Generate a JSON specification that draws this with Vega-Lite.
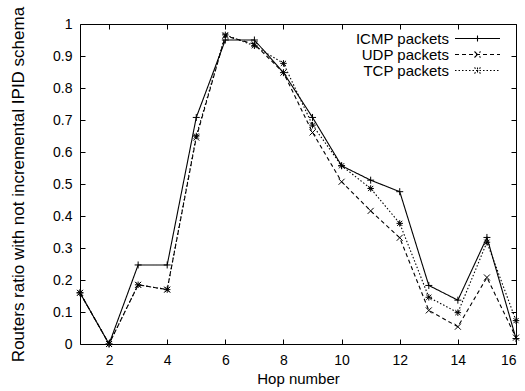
{
  "$schema": "https://vega.github.io/schema/vega-lite/v6.json",
  "width": 436,
  "height": 320,
  "autosize": "none",
  "padding": {"left": 80, "top": 24, "right": 9, "bottom": 47},
  "background": "white",
  "config": {
    "font": "Liberation Sans",
    "view": {"stroke": "black", "strokeWidth": 1},
    "axis": {"grid": false, "domain": false, "tickColor": "black", "labelColor": "black", "titleColor": "black", "labelFont": "Liberation Sans", "titleFont": "Liberation Sans", "labelFontSize": 14, "titleFontSize": 15, "titleFontWeight": "normal", "tickSize": -5, "tickWidth": 1}
  },
  "data": {
    "values": [
      {"hop": 1, "series": "ICMP packets", "ratio": 0.16},
      {"hop": 2, "series": "ICMP packets", "ratio": 0.0},
      {"hop": 3, "series": "ICMP packets", "ratio": 0.247},
      {"hop": 4, "series": "ICMP packets", "ratio": 0.247},
      {"hop": 5, "series": "ICMP packets", "ratio": 0.708},
      {"hop": 6, "series": "ICMP packets", "ratio": 0.95},
      {"hop": 7, "series": "ICMP packets", "ratio": 0.95},
      {"hop": 8, "series": "ICMP packets", "ratio": 0.848},
      {"hop": 9, "series": "ICMP packets", "ratio": 0.708},
      {"hop": 10, "series": "ICMP packets", "ratio": 0.557},
      {"hop": 11, "series": "ICMP packets", "ratio": 0.512},
      {"hop": 12, "series": "ICMP packets", "ratio": 0.476},
      {"hop": 13, "series": "ICMP packets", "ratio": 0.183},
      {"hop": 14, "series": "ICMP packets", "ratio": 0.137},
      {"hop": 15, "series": "ICMP packets", "ratio": 0.333},
      {"hop": 16, "series": "ICMP packets", "ratio": 0.017},
      {"hop": 1, "series": "UDP packets", "ratio": 0.16},
      {"hop": 2, "series": "UDP packets", "ratio": 0.0},
      {"hop": 3, "series": "UDP packets", "ratio": 0.185},
      {"hop": 4, "series": "UDP packets", "ratio": 0.17},
      {"hop": 5, "series": "UDP packets", "ratio": 0.645},
      {"hop": 6, "series": "UDP packets", "ratio": 0.963},
      {"hop": 7, "series": "UDP packets", "ratio": 0.937},
      {"hop": 8, "series": "UDP packets", "ratio": 0.848},
      {"hop": 9, "series": "UDP packets", "ratio": 0.661},
      {"hop": 10, "series": "UDP packets", "ratio": 0.507},
      {"hop": 11, "series": "UDP packets", "ratio": 0.416},
      {"hop": 12, "series": "UDP packets", "ratio": 0.332},
      {"hop": 13, "series": "UDP packets", "ratio": 0.105},
      {"hop": 14, "series": "UDP packets", "ratio": 0.054},
      {"hop": 15, "series": "UDP packets", "ratio": 0.208},
      {"hop": 16, "series": "UDP packets", "ratio": 0.02},
      {"hop": 1, "series": "TCP packets", "ratio": 0.16},
      {"hop": 2, "series": "TCP packets", "ratio": 0.0},
      {"hop": 3, "series": "TCP packets", "ratio": 0.185},
      {"hop": 4, "series": "TCP packets", "ratio": 0.17},
      {"hop": 5, "series": "TCP packets", "ratio": 0.65},
      {"hop": 6, "series": "TCP packets", "ratio": 0.966},
      {"hop": 7, "series": "TCP packets", "ratio": 0.932},
      {"hop": 8, "series": "TCP packets", "ratio": 0.877},
      {"hop": 9, "series": "TCP packets", "ratio": 0.684},
      {"hop": 10, "series": "TCP packets", "ratio": 0.557},
      {"hop": 11, "series": "TCP packets", "ratio": 0.486},
      {"hop": 12, "series": "TCP packets", "ratio": 0.377},
      {"hop": 13, "series": "TCP packets", "ratio": 0.146},
      {"hop": 14, "series": "TCP packets", "ratio": 0.098},
      {"hop": 15, "series": "TCP packets", "ratio": 0.318},
      {"hop": 16, "series": "TCP packets", "ratio": 0.073}
    ]
  },
  "layer": [
    {
      "mark": {"type": "line", "stroke": "black", "strokeWidth": 1.1},
      "encoding": {
        "x": {"field": "hop", "type": "quantitative", "scale": {"domain": [1, 16], "nice": false, "zero": false},
              "axis": {"orient": "bottom", "title": "Hop number", "values": [2, 4, 6, 8, 10, 12, 14, 16], "labelPadding": 14, "titlePadding": 4}},
        "y": {"field": "ratio", "type": "quantitative", "scale": {"domain": [0, 1], "nice": false},
              "axis": {"orient": "left", "title": "Routers ratio with not incremental IPID schema", "titleFontSize": 17, "values": [0, 0.1, 0.2, 0.3, 0.4, 0.5, 0.6, 0.7, 0.8, 0.9, 1], "format": "~g", "labelAlign": "right", "labelPadding": 13, "titlePadding": 25}},
        "strokeDash": {"field": "series", "type": "nominal",
          "scale": {"domain": ["ICMP packets", "UDP packets", "TCP packets"], "range": [[1, 0], [4, 3], [1.5, 2]]},
          "legend": {"title": null, "orient": "none", "legendX": 390, "legendY": 7, "symbolSize": 100, "labelAlign": "right", "labelOffset": -36, "labelFontSize": 15, "labelFont": "Liberation Sans", "labelColor": "black", "rowPadding": -3, "padding": 0,
            "symbolType": {"expr": "datum.value === 'ICMP packets' ? 'M-4.5,0L4.5,0M0,-0.6L0,0.6' : datum.value === 'UDP packets' ? 'M-4.5,0L4.5,0M-0.6,-0.6L0.6,0.6M-0.6,0.6L0.6,-0.6' : 'M-4.5,0L4.5,0M0,-0.6L0,0.6M-0.6,-0.6L0.6,0.6M-0.6,0.6L0.6,-0.6'"},
            "symbolStrokeColor": "black", "symbolStrokeWidth": 1.1, "symbolFillColor": "transparent"}
        }
      }
    },
    {
      "transform": [{"filter": "datum.series === 'ICMP packets'"}],
      "mark": {"type": "point", "shape": "M-1,0L1,0M0,-1L0,1", "filled": false, "stroke": "black", "strokeWidth": 1, "size": 49, "opacity": 1},
      "encoding": {
        "x": {"field": "hop", "type": "quantitative", "axis": {"orient": "top", "labels": false, "title": null, "values": [2, 4, 6, 8, 10, 12, 14, 16]}},
        "y": {"field": "ratio", "type": "quantitative", "axis": {"orient": "right", "labels": false, "title": null, "values": [0, 0.1, 0.2, 0.3, 0.4, 0.5, 0.6, 0.7, 0.8, 0.9, 1]}}
      }
    },
    {
      "transform": [{"filter": "datum.series === 'UDP packets'"}],
      "mark": {"type": "point", "shape": "M-1,-1L1,1M-1,1L1,-1", "filled": false, "stroke": "black", "strokeWidth": 1, "size": 36, "opacity": 1},
      "encoding": {
        "x": {"field": "hop", "type": "quantitative", "axis": null},
        "y": {"field": "ratio", "type": "quantitative", "axis": null}
      }
    },
    {
      "transform": [{"filter": "datum.series === 'TCP packets'"}],
      "mark": {"type": "point", "shape": "M-1,0L1,0M0,-1L0,1M-0.8,-0.8L0.8,0.8M-0.8,0.8L0.8,-0.8", "filled": false, "stroke": "black", "strokeWidth": 1, "size": 42, "opacity": 1},
      "encoding": {
        "x": {"field": "hop", "type": "quantitative", "axis": null},
        "y": {"field": "ratio", "type": "quantitative", "axis": null}
      }
    }
  ],
  "resolve": {"axis": {"x": "independent", "y": "independent"}}
}
